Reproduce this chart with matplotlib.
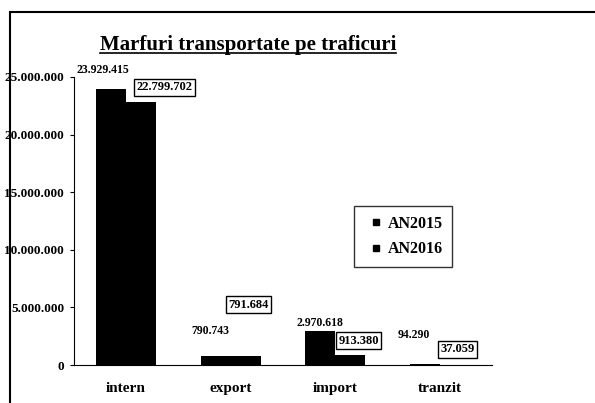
import matplotlib
matplotlib.use('Agg')
import matplotlib.pyplot as plt
from matplotlib.patches import Rectangle
from matplotlib.lines import Line2D
import numpy as np

plt.rcParams['font.family'] = ['Liberation Serif', 'DejaVu Serif']
plt.rcParams['font.weight'] = 'bold'

categories = ['intern', 'export', 'import', 'tranzit']
an2015 = [23929415, 790743, 2970618, 94290]
an2016 = [22799702, 791684, 913380, 37059]
yticks = [0, 5000000, 10000000, 15000000, 20000000, 25000000]

# label offsets in points (placement only)
off2015 = [(-6, 14), (-4, 18), (0, 6), (-8, 21)]
off2016 = [(17, 11), (2, 37), (6, 10), (2, 11)]


def fmt(v):
    return '{:,}'.format(v).replace(',', '.')


fig = plt.figure(figsize=(5.95, 4.03), dpi=100)
ax = fig.add_axes([0.124, 0.094, 0.703, 0.715])

x = np.arange(len(categories))
w = 0.286
ax.bar(x - w / 2, an2015, w, color='black', label='AN2015')
ax.bar(x + w / 2, an2016, w, color='black', label='AN2016')

ax.set_xlim(-0.5, 3.5)
ax.set_ylim(0, 25000000)
ax.set_yticks(yticks)
ax.set_yticklabels([fmt(v) for v in yticks], fontsize=9.5, fontweight='bold')
ax.set_xticks(x)
ax.set_xticklabels(categories, fontsize=11, fontweight='bold')
ax.tick_params(axis='x', length=0, pad=12)
ax.tick_params(axis='y', length=3, direction='out', pad=4)
ax.spines['top'].set_visible(False)
ax.spines['right'].set_visible(False)

for i in range(len(categories)):
    ax.annotate(fmt(an2015[i]), xy=(x[i] - w / 2, an2015[i]), xytext=off2015[i],
                textcoords='offset points', ha='center', va='center',
                fontsize=8.5, fontweight='bold')
    ax.annotate(fmt(an2016[i]), xy=(x[i] + w / 2, an2016[i]), xytext=off2016[i],
                textcoords='offset points', ha='center', va='center',
                fontsize=9, fontweight='bold',
                bbox=dict(boxstyle='square,pad=0.2', fc='white', ec='black', lw=1))

handles = [Line2D([], [], marker='s', color='black', ls='none', markersize=5),
           Line2D([], [], marker='s', color='black', ls='none', markersize=5)]
leg = fig.legend(handles, ['AN2015', 'AN2016'], loc='upper left',
                 bbox_to_anchor=(354 / 595, 1 - 206 / 403),
                 prop={'size': 11.5, 'weight': 'bold'}, frameon=True, fancybox=False,
                 handlelength=1.6, handletextpad=-0.1, labelspacing=0.6,
                 borderpad=0.6, borderaxespad=0)
leg.get_frame().set_edgecolor('black')
leg.get_frame().set_linewidth(1)

t = fig.text(248 / 595, 1 - 45 / 403, 'Marfuri transportate pe traficuri',
             ha='center', va='center', fontsize=15, fontweight='bold')

fig.canvas.draw()
bb = t.get_window_extent().transformed(fig.transFigure.inverted())
fig.add_artist(Line2D([bb.x0, bb.x1], [bb.y0 + 0.004, bb.y0 + 0.004],
                      transform=fig.transFigure, color='black', lw=1.2))

fig.add_artist(Rectangle((10 / 595, -0.05), 1.2, 1 - 12 / 403 + 0.05,
                         transform=fig.transFigure, fill=False, ec='black', lw=1.5))

fig.savefig('out.png', dpi=100)
